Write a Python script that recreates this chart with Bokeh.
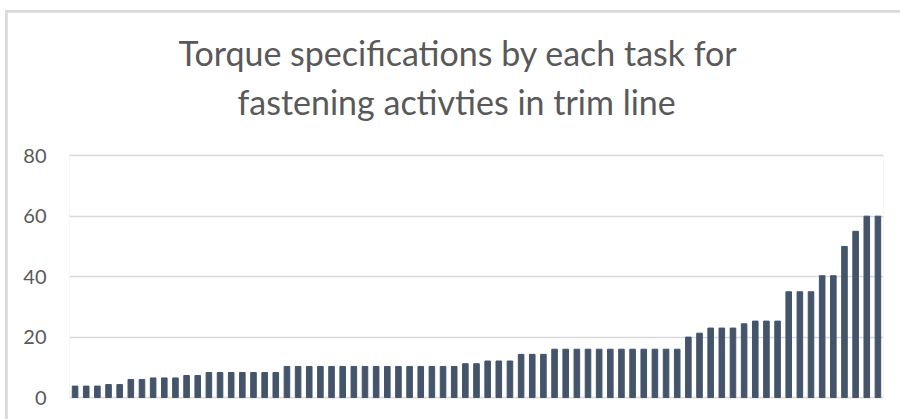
from bokeh.plotting import figure
from bokeh.layouts import column
from bokeh.models import FixedTicker, Title
from bokeh.embed import file_html
from bokeh.resources import INLINE

# Torque specification (Nm) for each fastening task, sorted ascending
tasks = list(range(1, 74))
torque = [
    3.8, 3.8, 3.8, 4.3, 4.3, 6.0, 6.0, 6.5, 6.5, 6.5,
    7.3, 7.3, 8.3, 8.3, 8.3, 8.3, 8.3, 8.3, 8.3, 10.3,
    10.3, 10.3, 10.3, 10.3, 10.3, 10.3, 10.3, 10.3, 10.3, 10.3,
    10.3, 10.3, 10.3, 10.3, 10.3, 11.2, 11.2, 12.1, 12.1, 12.1,
    14.3, 14.3, 14.3, 16.0, 16.0, 16.0, 16.0, 16.0, 16.0, 16.0,
    16.0, 16.0, 16.0, 16.0, 16.0, 20.0, 21.3, 23.0, 23.0, 23.0,
    24.4, 25.3, 25.3, 25.3, 35.0, 35.0, 35.0, 40.3, 40.3, 50.0,
    55.0, 60.0, 60.0,
]
y_ticks = [0, 20, 40, 60, 80]

title_lines = ["Torque specifications by each task for", "fastening activties in trim line"]

p = figure(
    width=893, height=407, title=None,
    x_range=(0.5, len(tasks) + 0.5), y_range=(-0.3, 80.4),
    output_backend="svg", toolbar_location=None,
    min_border_left=62, min_border_right=17,
    min_border_top=142, min_border_bottom=21,
)
p.margin = (2, 0, 0, 2)

p.vbar(x=tasks, top=torque, bottom=0, width=0.5, color="#44546A")

# blank spacer keeps the title block clear of the plot area
p.add_layout(Title(text=" ", text_font_size="1px", standoff=27), "above")

# two title lines, each centred over the chart; lower line is added first
for text, offset, standoff in [(title_lines[1], 168, 5), (title_lines[0], 109, 8)]:
    t = Title(
        text=text, align="left", offset=offset, standoff=standoff,
        text_font="Lato", text_font_size="34px", text_font_style="normal",
        text_color="#595959",
    )
    p.add_layout(t, "above")

p.outline_line_color = None
p.xaxis.visible = False
p.xgrid.grid_line_color = None
p.ygrid.grid_line_color = "#D9D9D9"
p.ygrid.grid_line_width = 1.3

p.yaxis.ticker = FixedTicker(ticks=y_ticks)
p.yaxis.axis_line_color = None
p.yaxis.major_tick_line_color = None
p.yaxis.minor_tick_line_color = None
p.yaxis.major_tick_in = 0
p.yaxis.major_tick_out = 0
p.yaxis.major_label_standoff = 23
p.yaxis.major_label_text_font = "Lato"
p.yaxis.major_label_text_font_size = "20px"
p.yaxis.major_label_text_color = "#595959"

# light grey chart border on the left and top edges
chart = column(p, margin=(10, 0, 0, 5), styles={"background-color": "#D9D9D9"})

open("out.html", "w").write(file_html(chart, INLINE))
